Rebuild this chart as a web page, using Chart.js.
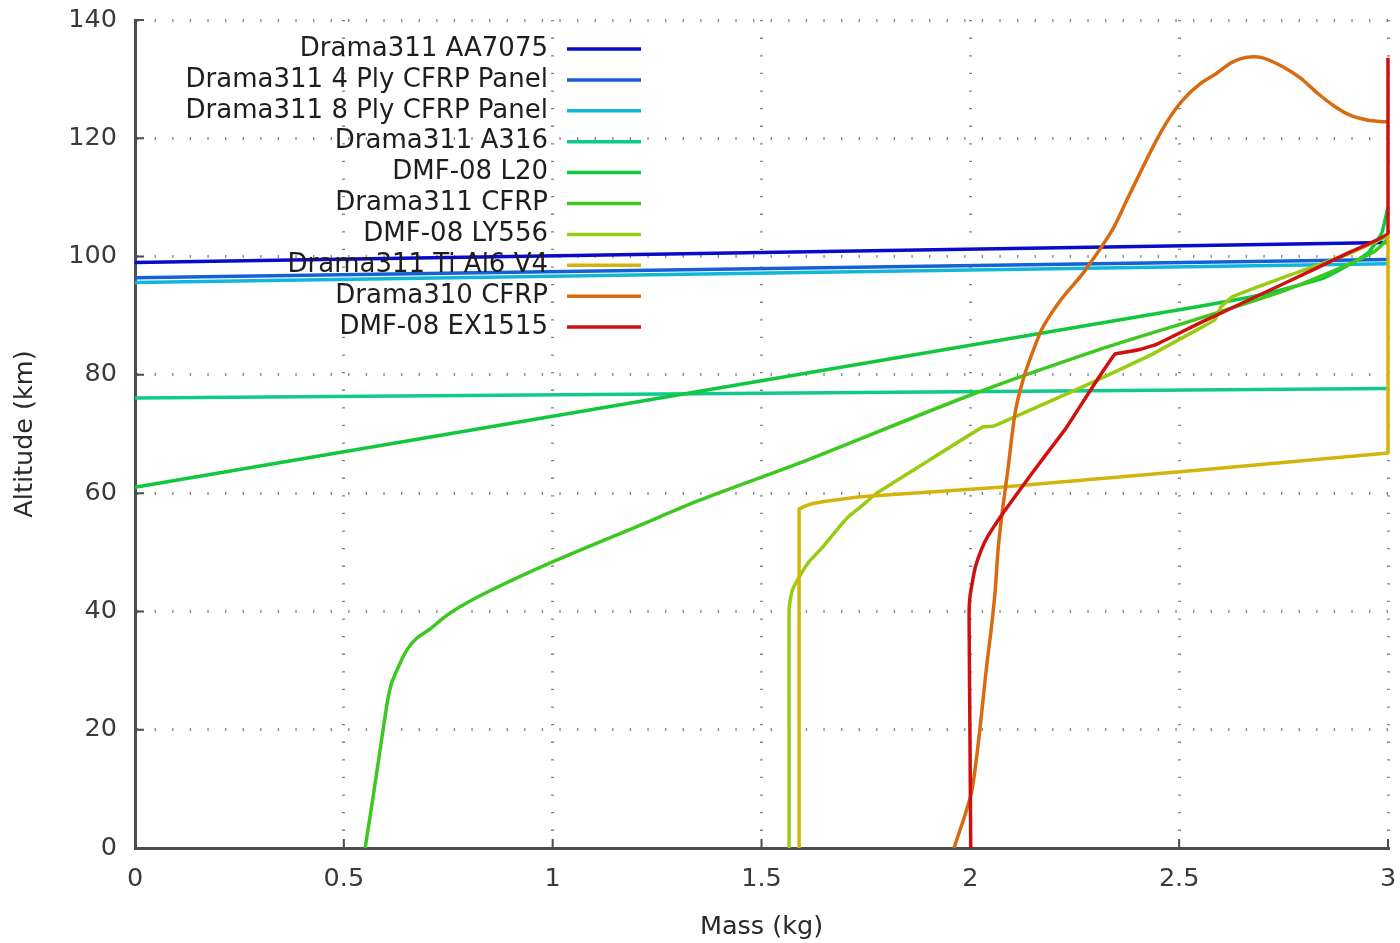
<!DOCTYPE html>
<html>
<head>
<meta charset="utf-8">
<script src="https://cdn.jsdelivr.net/npm/chart.js@4/dist/chart.umd.min.js"></script>
<style>
  html, body { margin: 0; padding: 0; background: #fff; }
  canvas { display: block; }
</style>
</head>
<body>
<canvas id="chart" width="1400" height="943"></canvas>
<script>
// axis ticks
const massTicks = [0, 0.5, 1, 1.5, 2, 2.5, 3];
const altitudeTicks = [0, 20, 40, 60, 80, 100, 120, 140];

const seriesNames = [
  'Drama311 AA7075',
  'Drama311 4 Ply CFRP Panel',
  'Drama311 8 Ply CFRP Panel',
  'Drama311 A316',
  'DMF-08 L20',
  'Drama311 CFRP',
  'DMF-08 LY556',
  'Drama311 Ti Al6 V4',
  'Drama310 CFRP',
  'DMF-08 EX1515'
];

// each point is [mass kg, altitude km]
const aa7075 = [[0, 99.0], [3, 102.4]];
const cfrp4Ply = [[0, 96.4], [3, 99.5]];
const cfrp8Ply = [[0, 95.6], [3, 98.8]];
const a316 = [[0, 76.1], [3, 77.7]];
const l20 = [[0, 61.0], [1, 73.0], [2, 85.0], [2.5, 91.0], [2.7, 93.6], [2.85, 96.5],
  [2.95, 100.5], [2.985, 104], [3, 108.4]];
const drama311Cfrp = [[0.551, 0], [0.573, 10], [0.594, 20], [0.605, 25], [0.615, 28],
  [0.633, 31], [0.651, 33.5], [0.675, 35.5], [0.706, 37], [0.74, 39], [0.778, 40.8],
  [0.85, 43.5], [0.994, 48.2], [1.2, 54.3], [1.352, 58.8], [1.592, 65.1], [1.99, 76.3],
  [2.31, 84.3], [2.55, 89.6], [2.75, 94.2], [2.9, 98.5], [2.97, 101], [3, 103]];
const ly556 = [[1.566, 0], [1.566, 20], [1.566, 40.2], [1.569, 42], [1.574, 43.6],
  [1.59, 45.8], [1.615, 48.5], [1.647, 50.9], [1.671, 53], [1.705, 55.8], [1.736, 57.6],
  [1.776, 60], [1.9, 65.5], [2.03, 71.2], [2.054, 71.3], [2.078, 72], [2.27, 78],
  [2.43, 83.3], [2.55, 87.9], [2.585, 89.3], [2.6, 91.5], [2.63, 93.3], [2.75, 96.5],
  [2.9, 100.3], [3, 103.5]];
const tiAl6V4 = [[1.59, 0], [1.59, 57.3], [1.6, 57.7], [1.62, 58.2], [1.65, 58.6],
  [1.736, 59.4], [2.071, 61.0], [2.55, 63.9], [3, 66.8], [3, 104.5]];
const drama310Cfrp = [[1.961, 0], [2.004, 9.8], [2.04, 31.3], [2.05, 37], [2.059, 43.1],
  [2.067, 50.9], [2.078, 57.7], [2.09, 64], [2.107, 73.5], [2.126, 79.1], [2.15, 84],
  [2.174, 88.1], [2.22, 93], [2.27, 97.2], [2.34, 104.5], [2.375, 109.6], [2.437, 118.5],
  [2.47, 122.7], [2.509, 126.5], [2.55, 129.2], [2.59, 131], [2.625, 132.8], [2.662, 133.7],
  [2.7, 133.6], [2.748, 132.1], [2.79, 130.2], [2.83, 127.7], [2.87, 125.5], [2.909, 123.9],
  [2.95, 123.1], [2.988, 122.8], [3, 122.8]];
const ex1515 = [[2.001, 0], [1.999, 20], [1.997, 39.7], [1.999, 42.4], [2.005, 45],
  [2.012, 47.5], [2.025, 50.2], [2.041, 52.6], [2.078, 56.6], [2.118, 60.5], [2.166, 65.1],
  [2.231, 71.2], [2.293, 78], [2.346, 83.5], [2.36, 83.7], [2.406, 84.3], [2.447, 85.2],
  [2.55, 88.8], [2.75, 95.4], [2.91, 100.8], [3, 104], [3, 133.6]];

const seriesData = [aa7075, cfrp4Ply, cfrp8Ply, a316, l20, drama311Cfrp, ly556, tiAl6V4, drama310Cfrp, ex1515];
const seriesColors = ['#0a0ac8', '#1560d5', '#12b6d8', '#10c890', '#10c840',
  '#3cc820', '#98cc10', '#d4b40a', '#d86a10', '#d01010'];
const seriesTension = [0, 0, 0, 0, 0.15, 0.25, 0.1, 0, 0.25, 0.1];

const FONT = 'DejaVu Sans';

// gnuplot style ticks pointing into the plot
const innerTicks = {
  id: 'innerTicks',
  beforeDatasetsDraw(chart) {
    const {ctx, chartArea, scales} = chart;
    ctx.save();
    ctx.strokeStyle = '#4d4d4d';
    ctx.lineWidth = 2;
    ctx.beginPath();
    massTicks.forEach(v => {
      const px = scales.x.getPixelForValue(v);
      ctx.moveTo(px, chartArea.bottom);
      ctx.lineTo(px, chartArea.bottom - 9);
    });
    altitudeTicks.forEach(v => {
      const py = scales.y.getPixelForValue(v);
      ctx.moveTo(chartArea.left, py);
      ctx.lineTo(chartArea.left + 9, py);
    });
    ctx.stroke();
    ctx.restore();
  }
};

// key in the top left, text right aligned, sample to the right
const keyBox = {
  id: 'keyBox',
  afterDatasetsDraw(chart) {
    const ctx = chart.ctx;
    ctx.save();
    ctx.font = '26px "' + FONT + '"';
    ctx.textAlign = 'right';
    ctx.textBaseline = 'middle';
    chart.data.datasets.forEach((ds, i) => {
      const y = 49 + i * 30.9;
      ctx.fillStyle = '#1e1e1e';
      ctx.fillText(ds.label, 548, y);
      ctx.strokeStyle = ds.borderColor;
      ctx.lineWidth = 3.5;
      ctx.beginPath();
      ctx.moveTo(567, y);
      ctx.lineTo(641, y);
      ctx.stroke();
    });
    ctx.restore();
  }
};

// no extra room for the end labels, the layout padding handles it
const noEdgePadding = s => {
  s.paddingTop = 0;
  s.paddingBottom = 0;
  s.paddingLeft = 0;
  s.paddingRight = 0;
};

new Chart(document.getElementById('chart'), {
  type: 'scatter',
  data: {
    datasets: seriesData.map((pts, i) => ({
      label: seriesNames[i],
      data: pts.map(p => ({x: p[0], y: p[1]})),
      borderColor: seriesColors[i],
      backgroundColor: seriesColors[i],
      borderWidth: 3.5,
      borderJoinStyle: 'round',
      pointRadius: 0,
      showLine: true,
      fill: false,
      clip: false,
      tension: seriesTension[i],
      order: seriesData.length - i
    }))
  },
  options: {
    responsive: false,
    animation: false,
    devicePixelRatio: 1,
    layout: { padding: { top: 20, right: 12, left: 0, bottom: 0 } },
    plugins: { legend: { display: false }, tooltip: { enabled: false } },
    scales: {
      x: {
        type: 'linear',
        min: 0,
        max: 3,
        afterFit: s => { s.height = 95; noEdgePadding(s); },
        afterBuildTicks: s => { s.ticks = massTicks.map(v => ({value: v})); },
        grid: { color: 'rgba(100,100,100,0.8)', lineWidth: 3, drawTicks: false },
        border: { display: true, color: '#4d4d4d', width: 3, dash: [1.3, 16.3] },
        ticks: {
          padding: 16,
          color: '#3a3a3a',
          font: { family: FONT, size: 25.5 },
          callback: v => String(v)
        },
        title: {
          display: true,
          text: 'Mass (kg)',
          color: '#2a2a2a',
          font: { family: FONT, size: 25.5 },
          padding: { top: 0, bottom: 0 }
        }
      },
      y: {
        type: 'linear',
        min: 0,
        max: 140,
        afterFit: s => { s.width = 135; noEdgePadding(s); },
        afterBuildTicks: s => { s.ticks = altitudeTicks.map(v => ({value: v})); },
        grid: { color: 'rgba(100,100,100,0.8)', lineWidth: 3, drawTicks: false },
        border: { display: true, color: '#4d4d4d', width: 3, dash: [1.3, 16.3] },
        ticks: {
          padding: 18,
          color: '#3a3a3a',
          font: { family: FONT, size: 25.5 },
          callback: v => String(v)
        },
        title: {
          display: true,
          text: 'Altitude (km)',
          color: '#2a2a2a',
          font: { family: FONT, size: 25.5 },
          padding: { top: 10, bottom: 0 }
        }
      }
    }
  },
  plugins: [innerTicks, keyBox]
});
</script>
</body>
</html>
